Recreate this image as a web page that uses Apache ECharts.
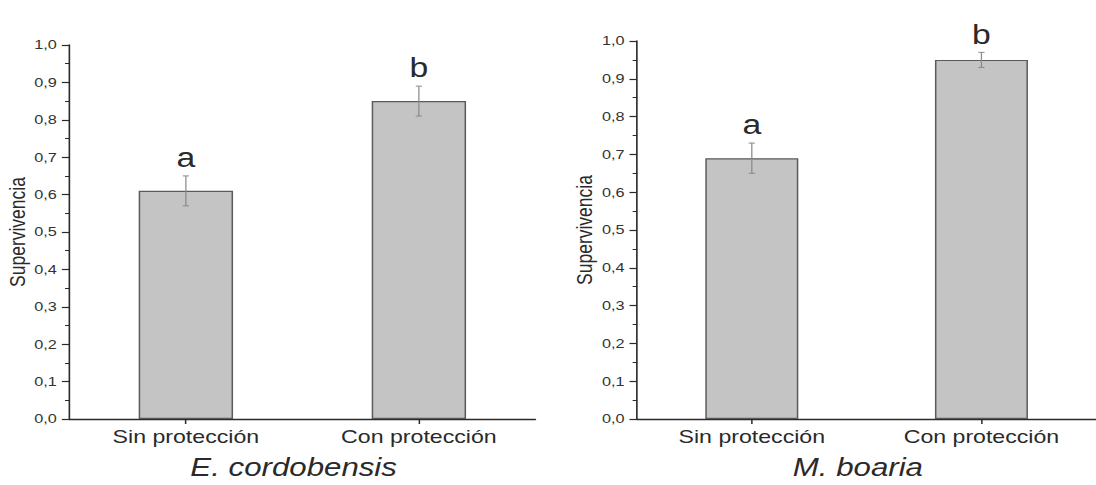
<!DOCTYPE html>
<html><head><meta charset="utf-8">
<script src="https://cdn.jsdelivr.net/npm/echarts@6/dist/echarts.min.js"></script>
<style>
html,body{margin:0;padding:0;background:#fff;overflow:hidden}
#c{width:876.8px;height:485px;transform:scale(1.25,1);transform-origin:0 0}
</style>
</head><body><div id="c"></div>
<script>
const categories = ['Sin protección', 'Con protección'];
const species = ['E. cordobensis', 'M. boaria'];
const cordobensisValues = [0.61, 0.85];
const cordobensisErrors = [0.04, 0.04];
const cordobensisLetters = ['a', 'b'];
const boariaValues = [0.69, 0.95];
const boariaErrors = [0.04, 0.02];
const boariaLetters = ['a', 'b'];

const chart = echarts.init(document.getElementById('c'), null, { renderer: 'svg' });
const FONT = 'Liberation Sans, Arial, sans-serif';
const INK = '#2a2a2a';

function yAxis(idx) {
  return {
    type: 'value', gridIndex: idx, min: 0, max: 1, interval: 0.1,
    name: 'Supervivencia', nameLocation: 'middle', nameGap: 33,
    nameTextStyle: { fontFamily: FONT, fontSize: 17.5, color: INK },
    axisLine: { show: true, lineStyle: { color: INK, width: 1.3 } },
    axisTick: { show: true, length: 6, lineStyle: { color: INK, width: 1.2 } },
    minorTick: { show: true, splitNumber: 2, length: 3.5, lineStyle: { color: INK } },
    splitLine: { show: false },
    axisLabel: { fontFamily: FONT, fontSize: 13, color: '#333', margin: 10,
      formatter: v => v.toFixed(1).replace('.', ',') }
  };
}
function xAxis(idx, shift) {
  return {
    type: 'category', gridIndex: idx, data: categories,
    name: species[idx], nameLocation: 'middle', nameGap: 36,
    nameTextStyle: { fontFamily: FONT, fontSize: 25, fontStyle: 'italic', color: INK,
      padding: [0, shift, 0, 0] },
    axisLine: { show: true, lineStyle: { color: INK, width: 1.3 } },
    axisTick: { show: true, alignWithLabel: true, length: 5, lineStyle: { color: INK, width: 1.2 } },
    axisLabel: { fontFamily: FONT, fontSize: 18.5, color: INK, margin: 8 }
  };
}
function bars(idx, vals) {
  return {
    type: 'bar', xAxisIndex: idx, yAxisIndex: idx, data: vals, barWidth: '40.5%',
    itemStyle: { color: '#c4c4c4', borderColor: '#5a5a5a', borderWidth: 1.2 },
    silent: true
  };
}
function errs(idx, vals, errors, letters) {
  return {
    type: 'custom', xAxisIndex: idx, yAxisIndex: idx, z: 10,
    data: vals.map((v, i) => [i, v, errors[i]]),
    renderItem: (params, api) => {
      const x = api.value(0), v = api.value(1), e = api.value(2);
      const top = api.coord([x, v + e]);
      const bot = api.coord([x, v - e]);
      const cap = 2.5;
      const st = { stroke: '#8a8a8a', lineWidth: 1 };
      return {
        type: 'group', children: [
          { type: 'line', shape: { x1: top[0], y1: top[1], x2: bot[0], y2: bot[1] }, style: st },
          { type: 'line', shape: { x1: top[0] - cap, y1: top[1], x2: top[0] + cap, y2: top[1] }, style: st },
          { type: 'line', shape: { x1: bot[0] - cap, y1: bot[1], x2: bot[0] + cap, y2: bot[1] }, style: st },
          { type: 'text', style: { text: letters[params.dataIndex], x: top[0], y: top[1] - 5,
              align: 'center', verticalAlign: 'bottom', font: '27px ' + FONT, fill: INK } }
        ]
      };
    }
  };
}

chart.setOption({
  animation: false,
  backgroundColor: '#fff',
  grid: [
    { left: 55.5, top: 45, width: 372.8, height: 379 },
    { left: 509.6, top: 41, width: 374.4, height: 379 }
  ],
  xAxis: [xAxis(0, 14), xAxis(1, 14)],
  yAxis: [yAxis(0), yAxis(1)],
  series: [
    bars(0, cordobensisValues), errs(0, cordobensisValues, cordobensisErrors, cordobensisLetters),
    bars(1, boariaValues), errs(1, boariaValues, boariaErrors, boariaLetters)
  ]
});
</script></body></html>
